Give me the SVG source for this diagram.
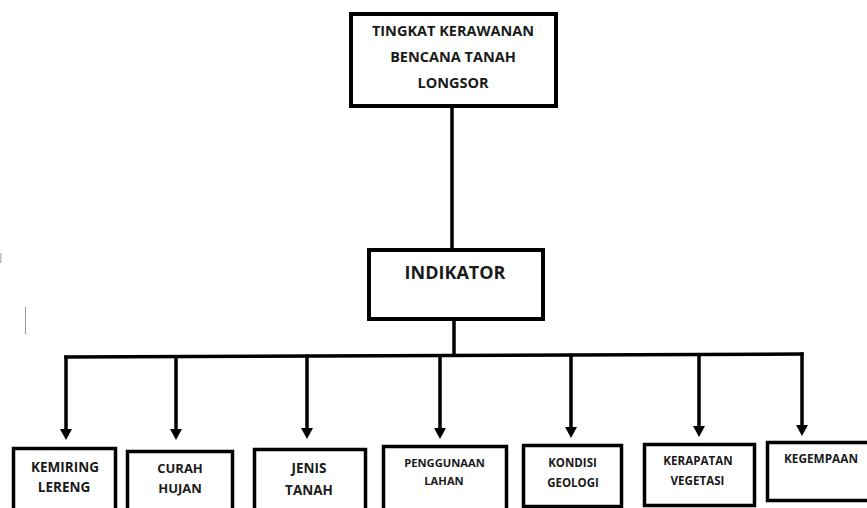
<svg xmlns="http://www.w3.org/2000/svg" width="867" height="508" viewBox="0 0 867 508">
<style>
.box{fill:#fff;stroke:#000;stroke-width:3.5}
.t{font-family:"Open Sans","Liberation Sans",sans-serif;font-weight:bold;fill:#1a1a1a;text-anchor:middle}
.ln{fill:none;stroke:#000;stroke-width:3.5}
</style>
<defs>
<marker id="ah" markerUnits="userSpaceOnUse" markerWidth="11" markerHeight="12" refX="5" refY="6" orient="auto" viewBox="0 0 11 12">
<path d="M0,0 L11,6 L0,12 Z" fill="#000"/>
</marker>
</defs>
<rect x="0" y="253" width="1.5" height="10" fill="#bbb"/>
<line x1="25.5" y1="307" x2="25.5" y2="334" stroke="#999" stroke-width="1"/>
<g id="connectors">
<line class="ln" x1="452" y1="107" x2="452" y2="250"/>
<line class="ln" x1="454" y1="320" x2="454" y2="355.5"/>
<line class="ln" x1="64.25" y1="357" x2="803.75" y2="354"/>
<line class="ln" x1="66" y1="355.5" x2="66" y2="434" marker-end="url(#ah)"/>
<line class="ln" x1="176" y1="355" x2="176" y2="434" marker-end="url(#ah)"/>
<line class="ln" x1="307" y1="354.5" x2="307" y2="433" marker-end="url(#ah)"/>
<line class="ln" x1="440" y1="354" x2="440" y2="433" marker-end="url(#ah)"/>
<line class="ln" x1="571" y1="353.5" x2="571" y2="432" marker-end="url(#ah)"/>
<line class="ln" x1="699" y1="353" x2="699" y2="431" marker-end="url(#ah)"/>
<line class="ln" x1="802" y1="352.5" x2="802" y2="430" marker-end="url(#ah)"/>
</g>
<g id="top">
<rect class="box" x="351" y="14" width="205" height="92" style="stroke-width:4"/>
<text class="t" x="453" y="36" font-size="14.5">TINGKAT KERAWANAN</text>
<text class="t" x="453" y="62" font-size="14.5">BENCANA TANAH</text>
<text class="t" x="453" y="88" font-size="14.5">LONGSOR</text>
</g>
<g id="indikator">
<rect class="box" x="369" y="250" width="174" height="69" style="stroke-width:4"/>
<text class="t" x="455" y="279" font-size="18">INDIKATOR</text>
</g>
<g id="kemiring">
<rect class="box" x="13.5" y="448.5" width="102" height="70"/>
<text class="t" x="65" y="472" font-size="13.5">KEMIRING</text>
<text class="t" x="64" y="492" font-size="13.5">LERENG</text>
</g>
<g id="curah">
<rect class="box" x="127.5" y="451.5" width="105" height="70"/>
<text class="t" x="180" y="473" font-size="13">CURAH</text>
<text class="t" x="180" y="493" font-size="13">HUJAN</text>
</g>
<g id="jenis">
<rect class="box" x="254.5" y="449.5" width="111" height="70"/>
<text class="t" x="309" y="473" font-size="13.5">JENIS</text>
<text class="t" x="309" y="495" font-size="13.5">TANAH</text>
</g>
<g id="penggunaan">
<rect class="box" x="383.5" y="446.5" width="123" height="70"/>
<text class="t" x="444.5" y="467" font-size="11.2">PENGGUNAAN</text>
<text class="t" x="444" y="485" font-size="11.2">LAHAN</text>
</g>
<g id="kondisi">
<rect class="box" x="523.5" y="445.5" width="98" height="61"/>
<text class="t" x="572.5" y="467" font-size="11.5">KONDISI</text>
<text class="t" x="573" y="487" font-size="11.5">GEOLOGI</text>
</g>
<g id="kerapatan">
<rect class="box" x="644.5" y="444.5" width="110" height="61"/>
<text class="t" x="698" y="465" font-size="11.6">KERAPATAN</text>
<text class="t" x="697.5" y="485" font-size="11.6">VEGETASI</text>
</g>
<g id="kegempaan">
<rect class="box" x="767.5" y="442.5" width="110" height="58"/>
<text class="t" x="821" y="463" font-size="11.8">KEGEMPAAN</text>
</g>
</svg>
